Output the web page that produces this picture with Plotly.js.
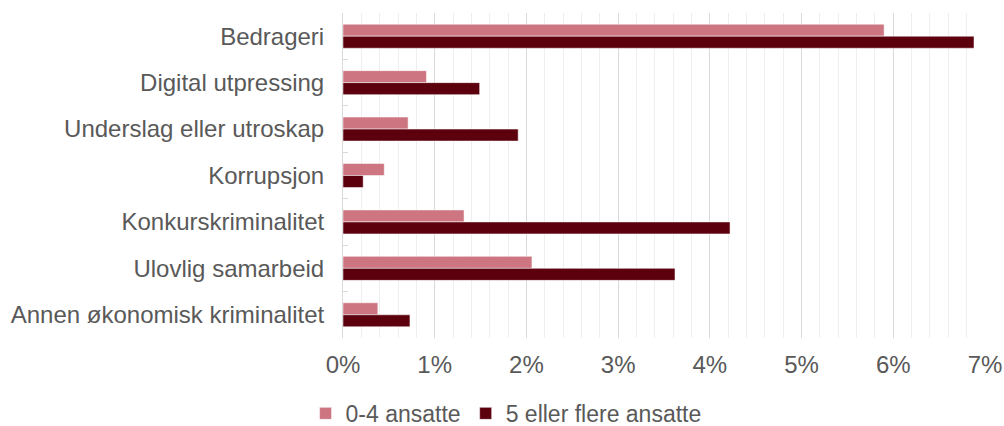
<!DOCTYPE html>
<html><head><meta charset="utf-8">
<script src="https://cdn.plot.ly/plotly-3.0.1.min.js"></script>
<style>html,body{margin:0;padding:0;background:#fff}#chart{width:1004px;height:426px}</style>
</head><body><div id="chart"></div>
<script>
const categories = ["Bedrageri","Digital utpressing","Underslag eller utroskap","Korrupsjon","Konkurskriminalitet","Ulovlig samarbeid","Annen økonomisk kriminalitet"];
const small = [5.90, 0.91, 0.71, 0.45, 1.32, 2.06, 0.38];
const large = [6.88, 1.49, 1.91, 0.22, 4.22, 3.62, 0.73];
const seriesNames = ["0-4 ansatte","5 eller flere ansatte"];
const tickVals = [0,1,2,3,4,5,6,7];
const tickText = ["0%","1%","2%","3%","4%","5%","6%","7%"];

const traces = [
  {type:'bar', orientation:'h', name:seriesNames[0], y:categories, x:small,
   marker:{color:'#CD7682', line:{color:'#ffffff', width:0.5}}},
  {type:'bar', orientation:'h', name:seriesNames[1], y:categories, x:large,
   marker:{color:'#5C000E', line:{color:'#ffffff', width:0.5}}}
];
const layout = {
  width:1004, height:426,
  margin:{l:343, r:19, t:13, b:88, autoexpand:false},
  paper_bgcolor:'#fff', plot_bgcolor:'#fff',
  font:{family:'Liberation Sans, Arial, sans-serif', color:'#595959', size:24},
  barmode:'group', bargap:0.483, bargroupgap:0,
  showlegend:true,
  legend:{orientation:'h', x:0.254, xanchor:'center', y:-0.232, yanchor:'middle',
          font:{size:23, color:'#595959'}, itemwidth:30, tracegroupgap:0},
  xaxis:{range:[0,7], tickvals:tickVals, ticktext:tickText, showgrid:true, gridcolor:'#D9D9D9', gridwidth:1,
         minor:{dtick:0.2, showgrid:true, gridcolor:'#EEEEEE', gridwidth:1},
         zeroline:false, showline:false, ticks:'', ticklabelstandoff:10, tickfont:{size:24}, automargin:false},
  yaxis:{type:'category', autorange:'reversed', showline:true, linecolor:'#D9D9D9', linewidth:1,
         ticks:'inside', tickson:'boundaries', ticklen:5, tickcolor:'#D9D9D9',
         showgrid:false, ticklabelstandoff:13, tickfont:{size:24}, automargin:false}
};
Plotly.newPlot('chart', traces, layout, {displayModeBar:false, staticPlot:true});
</script></body></html>
